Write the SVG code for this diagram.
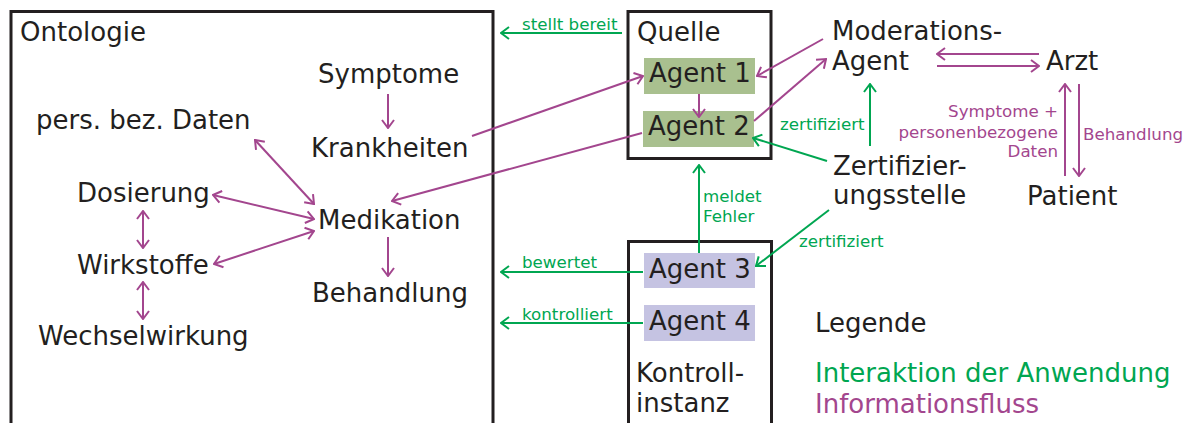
<svg xmlns="http://www.w3.org/2000/svg" width="1189" height="423" viewBox="0 0 1189 423">
  <style>
    .t { font-family: "DejaVu Sans", Verdana, sans-serif; font-size: 26px; fill: #231f20; }
    .s { font-family: "DejaVu Sans", Verdana, sans-serif; font-size: 16.7px; }
    .box { fill: #ffffff; stroke: #231f20; stroke-width: 3; }
    .info { stroke: #a3468e; stroke-width: 2; fill: none; }
    .inter { stroke: #00a651; stroke-width: 2; fill: none; }
    .gtxt { fill: #00a651; }
    .ptxt { fill: #a3468e; }
  </style>
  <defs>
    <marker id="hp" viewBox="0 0 10 14" refX="9" refY="7" markerWidth="10" markerHeight="14" markerUnits="userSpaceOnUse" orient="auto-start-reverse">
      <path d="M1,1 L9,7 L1,13" fill="none" stroke="#a3468e" stroke-width="2"/>
    </marker>
    <marker id="hg" viewBox="0 0 10 14" refX="9" refY="7" markerWidth="10" markerHeight="14" markerUnits="userSpaceOnUse" orient="auto-start-reverse">
      <path d="M1,1 L9,7 L1,13" fill="none" stroke="#00a651" stroke-width="2"/>
    </marker>
  </defs>

  <rect width="1189" height="423" fill="#ffffff"/>

  <!-- Ontology container and its concepts -->
  <g id="ontologie">
    <rect class="box" x="11" y="11.5" width="482" height="425"/>
    <text class="t" x="20" y="41">Ontologie</text>
  </g>
  <g id="symptome"><text class="t" x="318" y="83">Symptome</text></g>
  <g id="persdaten"><text class="t" x="36" y="129">pers. bez. Daten</text></g>
  <g id="krankheiten"><text class="t" x="311" y="157">Krankheiten</text></g>
  <g id="dosierung"><text class="t" x="77" y="202">Dosierung</text></g>
  <g id="medikation"><text class="t" x="318" y="229">Medikation</text></g>
  <g id="wirkstoffe"><text class="t" x="77" y="274">Wirkstoffe</text></g>
  <g id="behandlung"><text class="t" x="312" y="302">Behandlung</text></g>
  <g id="wechselwirkung"><text class="t" x="38" y="345">Wechselwirkung</text></g>

  <!-- Source with agents 1 and 2 -->
  <g id="quelle">
    <rect class="box" x="628" y="11.5" width="143" height="147"/>
    <text class="t" x="637" y="41">Quelle</text>
  </g>
  <g id="agent1">
    <rect x="644" y="58" width="111" height="36" fill="#a9c08f"/>
    <text class="t" x="649" y="82">Agent 1</text>
  </g>
  <g id="agent2">
    <rect x="643" y="111" width="111" height="36" fill="#a9c08f"/>
    <text class="t" x="648" y="135">Agent 2</text>
  </g>

  <!-- Control instance with agents 3 and 4 -->
  <g id="kontrollinstanz">
    <rect class="box" x="628.5" y="241.5" width="143" height="200"/>
    <text class="t" x="636" y="382">Kontroll-</text>
    <text class="t" x="636" y="412">instanz</text>
  </g>
  <g id="agent3">
    <rect x="644" y="253" width="111" height="35" fill="#c5c3e2"/>
    <text class="t" x="649" y="278">Agent 3</text>
  </g>
  <g id="agent4">
    <rect x="644" y="305" width="111" height="36" fill="#c5c3e2"/>
    <text class="t" x="649" y="330">Agent 4</text>
  </g>

  <g id="moderationsagent">
    <text class="t" x="832" y="40">Moderations-</text>
    <text class="t" x="832" y="70">Agent</text>
  </g>
  <g id="arzt"><text class="t" x="1046" y="70">Arzt</text></g>
  <g id="zertifizierungsstelle">
    <text class="t" x="833" y="175">Zertifizier-</text>
    <text class="t" x="833" y="204">ungsstelle</text>
  </g>
  <g id="patient"><text class="t" x="1027" y="205">Patient</text></g>

  <g id="legende">
    <text class="t" x="815" y="332">Legende</text>
    <text class="t gtxt" x="815" y="382">Interaktion der Anwendung</text>
    <text class="t ptxt" x="815" y="413">Informationsfluss</text>
  </g>

  <!-- Connectors -->
  <g id="connectors">
    <!-- information flow inside the ontology -->
    <line class="info" x1="388" y1="94" x2="388" y2="128" marker-end="url(#hp)"/>
    <line class="info" x1="388" y1="237" x2="388" y2="276" marker-end="url(#hp)"/>
    <line class="info" x1="255" y1="140" x2="314" y2="204" marker-start="url(#hp)" marker-end="url(#hp)"/>
    <line class="info" x1="213" y1="195" x2="314" y2="219" marker-start="url(#hp)" marker-end="url(#hp)"/>
    <line class="info" x1="214" y1="264" x2="314" y2="231" marker-start="url(#hp)" marker-end="url(#hp)"/>
    <line class="info" x1="143" y1="211" x2="143" y2="248" marker-start="url(#hp)" marker-end="url(#hp)"/>
    <line class="info" x1="143" y1="282" x2="143" y2="319" marker-start="url(#hp)" marker-end="url(#hp)"/>

    <!-- information flow between agents -->
    <line class="info" x1="472" y1="136" x2="643" y2="76" marker-end="url(#hp)"/>
    <line class="info" x1="642" y1="133" x2="392" y2="201" marker-end="url(#hp)"/>
    <line class="info" x1="699" y1="94" x2="699" y2="117" marker-end="url(#hp)"/>
    <line class="info" x1="823" y1="39" x2="757" y2="76" marker-end="url(#hp)"/>
    <line class="info" x1="754" y1="121" x2="826" y2="59" marker-end="url(#hp)"/>
    <line class="info" x1="1039" y1="54" x2="937" y2="54" marker-end="url(#hp)"/>
    <line class="info" x1="937" y1="66" x2="1039" y2="66" marker-end="url(#hp)"/>
    <line class="info" x1="1065" y1="176" x2="1065" y2="84" marker-end="url(#hp)"/>
    <line class="info" x1="1079" y1="84" x2="1079" y2="176" marker-end="url(#hp)"/>
    <text class="s ptxt" x="1058" y="117" text-anchor="end">Symptome +</text>
    <text class="s ptxt" x="1058" y="138" text-anchor="end">personenbezogene</text>
    <text class="s ptxt" x="1058" y="157" text-anchor="end">Daten</text>
    <text class="s ptxt" x="1083" y="140">Behandlung</text>

    <!-- application interactions -->
    <line class="inter" x1="622" y1="33" x2="501" y2="33" marker-end="url(#hg)"/>
    <text class="s gtxt" x="522" y="30">stellt bereit</text>
    <line class="inter" x1="827" y1="161" x2="753" y2="138" marker-end="url(#hg)"/>
    <text class="s gtxt" x="780" y="130">zertifiziert</text>
    <line class="inter" x1="870" y1="146" x2="870" y2="84" marker-end="url(#hg)"/>
    <line class="inter" x1="699" y1="253" x2="699" y2="165" marker-end="url(#hg)"/>
    <text class="s gtxt" x="703" y="202">meldet</text>
    <text class="s gtxt" x="703" y="222">Fehler</text>
    <line class="inter" x1="829" y1="210" x2="756" y2="266" marker-end="url(#hg)"/>
    <text class="s gtxt" x="799" y="247">zertifiziert</text>
    <line class="inter" x1="643" y1="272" x2="501" y2="272" marker-end="url(#hg)"/>
    <text class="s gtxt" x="522" y="268">bewertet</text>
    <line class="inter" x1="643" y1="323" x2="501" y2="323" marker-end="url(#hg)"/>
    <text class="s gtxt" x="522" y="320">kontrolliert</text>
  </g>
</svg>
